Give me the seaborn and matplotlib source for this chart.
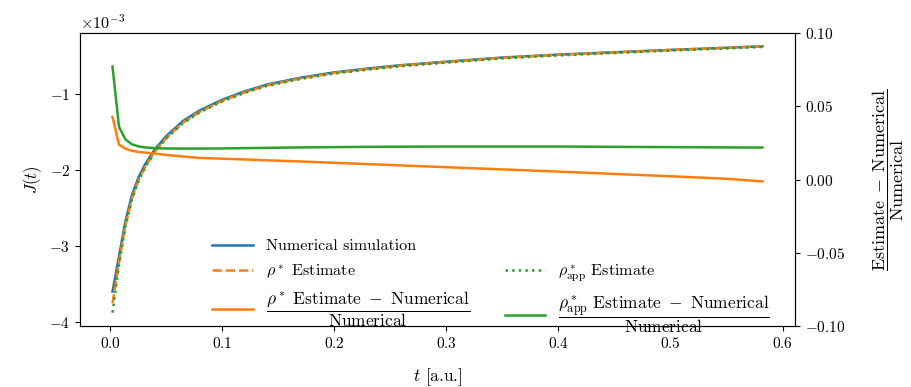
import numpy as np
import matplotlib
matplotlib.use("Agg")
import matplotlib.pyplot as plt
from matplotlib.lines import Line2D
import seaborn as sns

plt.rcParams.update({
    "font.family": "serif",
    "font.serif": ["cmr10"],
    "mathtext.fontset": "cm",
    "axes.formatter.use_mathtext": True,
    "font.size": 11,
})

# time grid [a.u.]
t = [0.0022, 0.0080, 0.0138, 0.0196, 0.0254, 0.0312, 0.040, 0.050, 0.065, 0.080,
     0.100, 0.120, 0.140, 0.170, 0.200, 0.230, 0.260, 0.300, 0.350, 0.400,
     0.450, 0.500, 0.550, 0.582]

# J(t) in units of 1e-3
J_numerical = [-3.60, -3.14, -2.67, -2.33, -2.10, -1.93, -1.73, -1.56, -1.36, -1.22,
               -1.08, -0.97, -0.88, -0.79, -0.72, -0.67, -0.625, -0.58, -0.525, -0.487,
               -0.456, -0.425, -0.397, -0.378]
J_rho_star = [-3.754, -3.215, -2.726, -2.376, -2.139, -1.966, -1.761, -1.586, -1.381, -1.238,
              -1.095, -0.983, -0.892, -0.800, -0.728, -0.677, -0.631, -0.585, -0.529, -0.490,
              -0.458, -0.426, -0.397, -0.378]
J_rho_app = [-3.878, -3.253, -2.743, -2.386, -2.147, -1.972, -1.767, -1.593, -1.389, -1.246,
             -1.103, -0.991, -0.899, -0.807, -0.736, -0.685, -0.639, -0.593, -0.537, -0.498,
             -0.466, -0.434, -0.406, -0.386]

# relative errors (right axis)
err_rho_star = [0.0428, 0.0238, 0.0210, 0.0196, 0.0188, 0.0184, 0.0177, 0.0168, 0.0157, 0.0147,
                0.0142, 0.0137, 0.0131, 0.0123, 0.0114, 0.0105, 0.0096, 0.0084, 0.0069, 0.0054,
                0.0038, 0.0022, 0.0005, -0.0013]
err_rho_app = [0.0771, 0.0359, 0.0273, 0.0240, 0.0226, 0.0219, 0.0214, 0.0212, 0.0211, 0.0211,
               0.0212, 0.0214, 0.0216, 0.0219, 0.0221, 0.0223, 0.0224, 0.0225, 0.0225, 0.0225,
               0.0223, 0.0221, 0.0219, 0.0218]

BLUE, ORANGE, GREEN = "#1f77b4", "#ff7f0e", "#2ca02c"
lw = 1.8

fig = plt.figure(figsize=(9.12, 3.87), dpi=100)
ax = fig.add_axes([80 / 912, 1 - 326 / 387, 715 / 912, 293 / 387])
ax2 = ax.twinx()

scale = 1e-3
tt = np.array(t)
sns.lineplot(x=tt, y=np.array(J_numerical) * scale, ax=ax, color=BLUE, lw=lw)
sns.lineplot(x=tt, y=np.array(J_rho_star) * scale, ax=ax, color=ORANGE, lw=lw, linestyle="--")
sns.lineplot(x=tt, y=np.array(J_rho_app) * scale, ax=ax, color=GREEN, lw=lw, linestyle=":")
sns.lineplot(x=tt, y=np.array(err_rho_star), ax=ax2, color=ORANGE, lw=lw)
sns.lineplot(x=tt, y=np.array(err_rho_app), ax=ax2, color=GREEN, lw=lw)

ax.ticklabel_format(axis="y", style="sci", scilimits=(0, 0))
ax.set_yticks([-4e-3, -3e-3, -2e-3, -1e-3])
ax.yaxis.get_offset_text().set_fontsize(11.6)

ax2.set_ylim(-0.10, 0.10)
ax2.set_yticks([-0.10, -0.05, 0.0, 0.05, 0.10])
ax2.yaxis.set_major_formatter(matplotlib.ticker.FuncFormatter(
    lambda v, p: "$%.2f$" % v))

ax.set_xlabel(r"$t$ [a.u.]", fontsize=12.5, labelpad=11)
ax.set_ylabel(r"$J(t)$", fontsize=12)
ax2.set_ylabel(r"$\dfrac{\mathrm{Estimate}\;-\;\mathrm{Numerical}}{\mathrm{Numerical}}$",
               fontsize=13, labelpad=18)

handles = [
    Line2D([], [], color=BLUE, lw=lw),
    Line2D([], [], color=ORANGE, lw=lw, linestyle="--"),
    Line2D([], [], color=ORANGE, lw=lw),
    Line2D([], [], alpha=0),
    Line2D([], [], color=GREEN, lw=lw, linestyle=":"),
    Line2D([], [], color=GREEN, lw=lw),
]
labels = [
    "Numerical simulation",
    r"$\rho^*$ Estimate",
    r"$\dfrac{\rho^*\ \mathrm{Estimate}\ -\ \mathrm{Numerical}}{\mathrm{Numerical}}$",
    " ",
    r"$\rho^*_{\mathrm{app}}$ Estimate",
    r"$\dfrac{\rho^*_{\mathrm{app}}\ \mathrm{Estimate}\ -\ \mathrm{Numerical}}{\mathrm{Numerical}}$",
]
leg = ax2.legend(handles, labels, ncol=2, frameon=False, loc="lower left",
                 bbox_to_anchor=(0.165, -0.08), handlelength=2.5, handletextpad=0.8,
                 columnspacing=2.2, labelspacing=0.55, fontsize=11.6)
for i in (2, 5):
    leg.get_texts()[i].set_fontsize(12.5)

fig.savefig("out.png", dpi=100)
